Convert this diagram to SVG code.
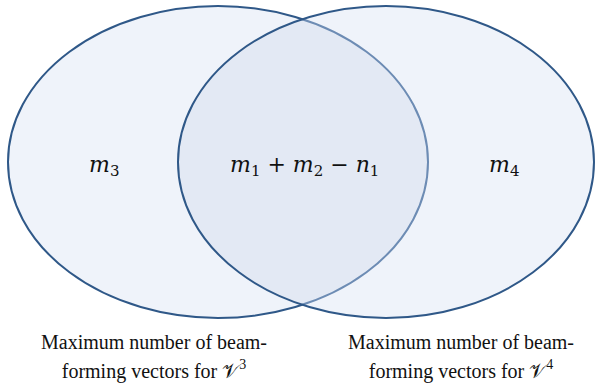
<svg xmlns="http://www.w3.org/2000/svg" width="596" height="388" viewBox="0 0 596 388">
<style>
.math{font-family:"DejaVu Serif","Liberation Serif",serif;font-size:22px;fill:#111}
.it{font-style:italic}
.sub{font-size:15px}
.lbl{font-family:"Liberation Serif","Times New Roman",serif;font-size:20px;fill:#111;text-anchor:middle}
.sup{font-size:14px}
.cal{font-family:"DejaVu Serif",serif;font-size:20px;font-weight:normal}
</style>
<defs>
<clipPath id="clipL"><ellipse cx="218" cy="162" rx="210" ry="156"/></clipPath>
<clipPath id="clipR"><ellipse cx="386" cy="162" rx="208" ry="156"/></clipPath>
</defs>
<rect width="596" height="388" fill="#ffffff"/>
<g id="setL">
<ellipse cx="218" cy="162" rx="210" ry="156" fill="#eff3fa" stroke="#2f5888" stroke-width="2"/>
</g>
<g id="setR">
<ellipse cx="386" cy="162" rx="208" ry="156" fill="#eff3fa" stroke="none"/>
<ellipse cx="386" cy="162" rx="208" ry="156" fill="#e3e9f4" clip-path="url(#clipL)"/>
<ellipse cx="218" cy="162" rx="210" ry="156" fill="none" stroke="#6d8cb4" stroke-width="2" clip-path="url(#clipR)"/>
<ellipse cx="386" cy="162" rx="208" ry="156" fill="none" stroke="#2f5888" stroke-width="2"/>
</g>
<g id="connectors"/>
<g id="m3">
<text class="math" x="89" y="172"><tspan class="it">m</tspan><tspan class="sub" dy="4">3</tspan></text>
</g>
<g id="overlap">
<text class="math" x="230" y="172"><tspan class="it">m</tspan><tspan class="sub" dy="4">1</tspan><tspan dy="-4"> + </tspan><tspan class="it">m</tspan><tspan class="sub" dy="4">2</tspan><tspan dy="-4"> − </tspan><tspan class="it">n</tspan><tspan class="sub" dy="4">1</tspan></text>
</g>
<g id="m4">
<text class="math" x="489" y="172"><tspan class="it">m</tspan><tspan class="sub" dy="4">4</tspan></text>
</g>
<g id="labelL">
<text class="lbl" x="154" y="349">Maximum number of beam-</text>
<text class="lbl" x="154" y="378">forming vectors for <tspan class="cal">𝒱</tspan><tspan class="sup" dy="-9">3</tspan></text>
</g>
<g id="labelR">
<text class="lbl" x="461" y="349">Maximum number of beam-</text>
<text class="lbl" x="461" y="378">forming vectors for <tspan class="cal">𝒱</tspan><tspan class="sup" dy="-9">4</tspan></text>
</g>
</svg>
